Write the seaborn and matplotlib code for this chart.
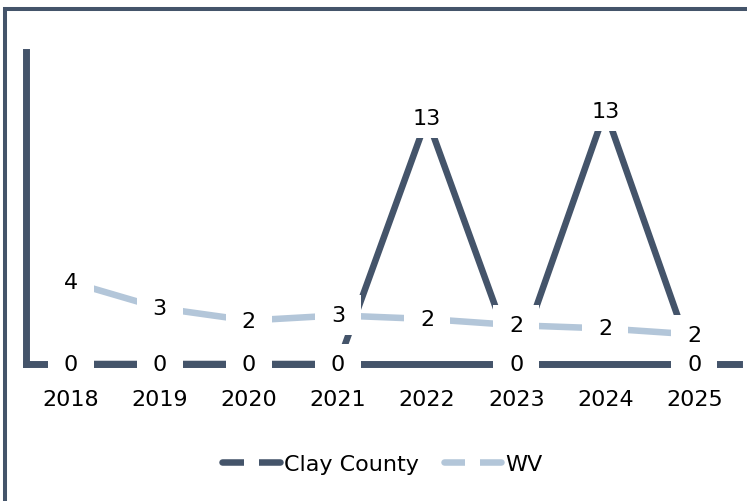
import numpy as np
import pandas as pd
import matplotlib
matplotlib.use('Agg')
import matplotlib.pyplot as plt
import seaborn as sns
from matplotlib.lines import Line2D
from matplotlib.patches import Rectangle
from matplotlib.transforms import ScaledTranslation

# ---- Data ----
years = ['2018', '2019', '2020', '2021', '2022', '2023', '2024', '2025']
clay_county = [0, 0, 0, 0, 13.0, 0, 13.4, 0]
wv = [4.34, 2.96, 2.30, 2.57, 2.38, 2.05, 1.88, 1.56]
series_names = ['Clay County', 'WV']

dark = '#44546A'
light = '#B3C6D9'
colors = {'Clay County': dark, 'WV': light}

sns.set_theme(style='white')
plt.rcParams['font.family'] = ['DejaVu Sans']
plt.rcParams['text.color'] = 'black'

fig = plt.figure(figsize=(7.47, 5.02), dpi=100)
ax = fig.add_axes([26 / 747, 137 / 502, 713 / 747, 312 / 502])

df = pd.DataFrame({
    'year': years * 2,
    'value': clay_county + wv,
    'series': ['Clay County'] * len(years) + ['WV'] * len(years),
})

sns.lineplot(data=df, x='year', y='value', hue='series', hue_order=['WV', 'Clay County'],
             palette=colors, lw=4.7, legend=False, ax=ax, clip_on=False, zorder=3)

# ---- Data labels with white boxes (box size in pixels) ----
for vals in [wv, clay_county]:
    for i, v in enumerate(vals):
        lab = f"{v:.0f}"
        w = 46 if len(lab) == 1 else 58
        h = 40
        tr = fig.dpi_scale_trans + ScaledTranslation(i, v, ax.transData)
        box = Rectangle((-w / 200, -h / 200), w / 100, h / 100, transform=tr,
                        facecolor='white', edgecolor='none', zorder=5, clip_on=False)
        ax.add_artist(box)
        ax.text(i, v, lab, ha='center', va='center', fontsize=16, color='black', zorder=6)

ax.set_xlim(-0.5, 7.5)
ax.set_ylim(0, 16.5)
ax.set_xticks(range(len(years)))
ax.set_xticklabels(years, fontsize=16, color='black')
ax.set_yticks([])
ax.tick_params(axis='x', length=0, pad=18)
ax.set_xlabel('')
ax.set_ylabel('')

for s in ['top', 'right']:
    ax.spines[s].set_visible(False)
for s in ['left', 'bottom']:
    ax.spines[s].set_color(dark)
    ax.spines[s].set_linewidth(5)

# ---- Legend ----
handles = [Line2D([0], [0], color=colors[n], lw=4.7, solid_capstyle='round',
                  marker='s', markersize=10.8, mfc='white', mec='white', mew=0)
           for n in series_names]
ax.legend(handles, series_names, loc='center', bbox_to_anchor=(0.5, -0.32), ncol=2,
          frameon=False, fontsize=16, handlelength=2.6, handletextpad=0.2, columnspacing=1.1,
          labelcolor='black')

# ---- Outer border ----
fig.add_artist(Rectangle((5 / 747, -0.05), 1.0, (502 - 10) / 502 + 0.05,
                         transform=fig.transFigure, fill=False, ec=dark, lw=2.9))

fig.savefig('out.png', dpi=100)
